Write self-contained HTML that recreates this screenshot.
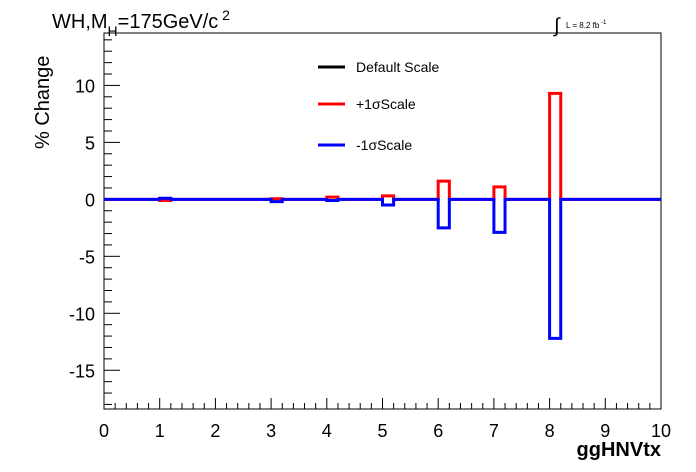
<!DOCTYPE html>
<html><head><meta charset="utf-8"><style>body{margin:0;background:#fff}svg{display:block;font-family:"Liberation Sans",sans-serif}</style></head>
<body>
<svg id="c" width="696" height="472">
<rect width="696" height="472" fill="#fff"/>
<g id="g"></g>
<text x="52" y="28" font-size="20">WH,M<tspan font-size="14" dy="8">H</tspan><tspan dy="-8">=175GeV/c</tspan><tspan font-size="14" dy="-8"> 2</tspan></text>
<text x="554" y="32" font-size="20">∫</text>
<text x="566" y="28" font-size="8">L = 8.2 fb<tspan font-size="6" dy="-4"> -1</tspan></text>
<text transform="translate(49,149) rotate(-90)" font-size="20">% Change</text>
<text x="661" y="456" font-size="20" font-weight="bold" text-anchor="end">ggHNVtx</text>
<g>
<line x1="318" y1="67" x2="345" y2="67" stroke="#000" stroke-width="3"/><text x="356" y="72" font-size="14">Default Scale</text>
<line x1="318" y1="104" x2="345" y2="104" stroke="#f00" stroke-width="3"/><text x="356" y="109" font-size="14">+1σScale</text>
<line x1="318" y1="145" x2="345" y2="145" stroke="#00f" stroke-width="3"/><text x="356" y="150" font-size="14">-1σScale</text>
</g>
</svg>
<script>
const binStarts=[1,3,4,5,6,7,8];
const upValues=[-0.1,0.05,0.2,0.3,1.6,1.1,9.3];
const downValues=[0.1,-0.2,-0.1,-0.5,-2.5,-2.9,-12.2];
const xTicks=[0,1,2,3,4,5,6,7,8,9,10];
const yTicks=[-15,-10,-5,0,5,10];
const L=104,R=661,T=33,B=409,xMin=0,xMax=10,yMin=-18.4,yMax=14.6,bw=0.2;
const X=v=>L+(v-xMin)/(xMax-xMin)*(R-L);
const Y=v=>B-(v-yMin)/(yMax-yMin)*(B-T);
const g=document.getElementById('g');const NS='http://www.w3.org/2000/svg';
function mk(t,a){const e=document.createElementNS(NS,t);for(const k in a)e.setAttribute(k,a[k]);g.appendChild(e);return e;}
const f=mk('rect',{x:L,y:T,width:R-L,height:B-T,fill:'none',stroke:'#000','stroke-width':1});


for(let v=xMin;v<=xMax+1e-9;v+=0.2){const maj=Math.abs(v-Math.round(v))<1e-6;mk('line',{x1:X(v),x2:X(v),y1:B,y2:B-(maj?11:6),stroke:'#000'});}
xTicks.forEach(v=>{const t=mk('text',{x:X(v),y:B+28,'font-size':18,'text-anchor':'middle'});t.textContent=v;

});
for(let v=-18;v<=14;v++){const maj=v%5===0;mk('line',{x1:L,x2:L+(maj?16:8),y1:Y(v),y2:Y(v),stroke:'#000'});}
yTicks.forEach(v=>{const t=mk('text',{x:L-9,y:Y(v)+7,'font-size':18,'text-anchor':'end'});t.textContent=v;

});
function series(vals,color,name){let d='M'+X(xMin)+' '+Y(0);binStarts.forEach((b,i)=>{d+=' L'+X(b)+' '+Y(0)+' L'+X(b)+' '+Y(vals[i])+' L'+X(b+bw)+' '+Y(vals[i])+' L'+X(b+bw)+' '+Y(0);});d+=' L'+X(xMax)+' '+Y(0);
const p=mk('path',{d:d,fill:'none',stroke:color,'stroke-width':3});

}
series(upValues,'#f00','plus-1-sigma-series');
series(downValues,'#00f','minus-1-sigma-series');
</script>
</body></html>
